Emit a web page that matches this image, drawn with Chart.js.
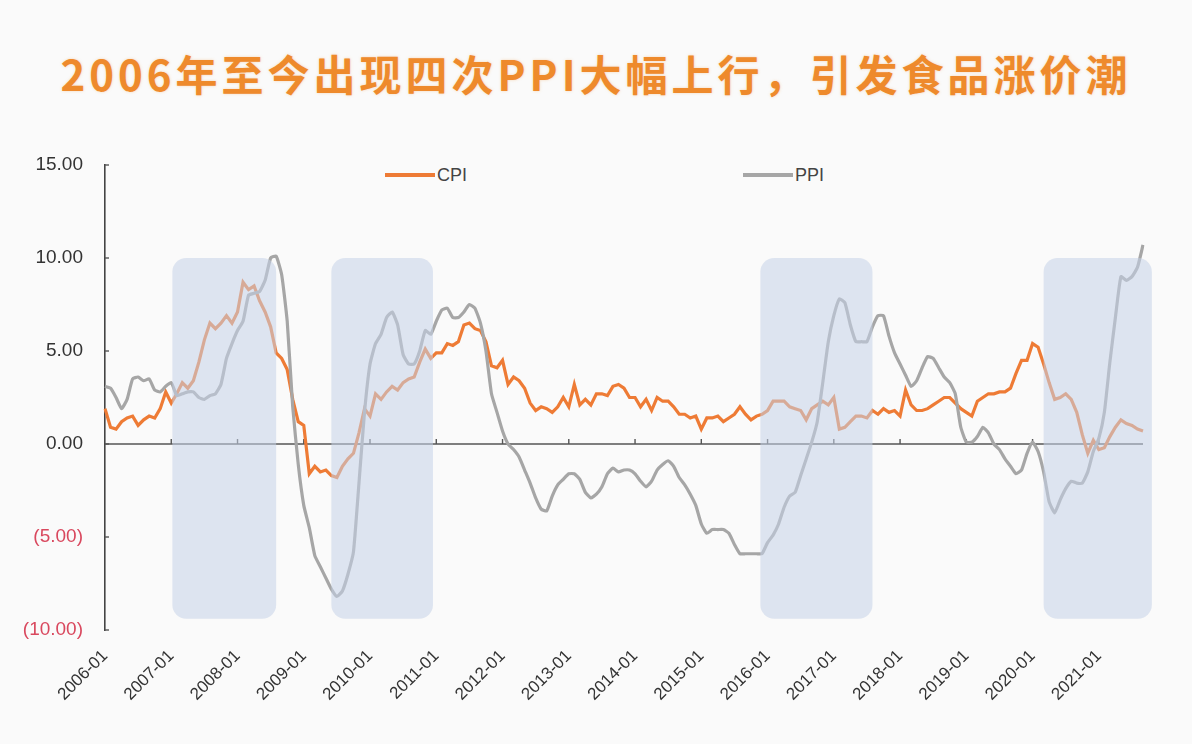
<!DOCTYPE html>
<html>
<head>
<meta charset="utf-8">
<script src="https://cdn.jsdelivr.net/npm/chart.js@4.4.1/dist/chart.umd.min.js"></script>
<style>
  html, body { margin: 0; padding: 0; background: #fafafa; }
  #wrap { position: relative; width: 1192px; height: 744px; overflow: hidden; background: #fafafa; }
  #title { position: absolute; left: 0; top: 44px; width: 1192px; text-align: center;
    font-family: "Noto Sans CJK SC", sans-serif; font-weight: 700; font-size: 42px; letter-spacing: 4px;
    color: #ee8a2c; line-height: 58px; text-shadow: 0 0 3px rgba(240,150,60,0.35); }
  .leg { position: absolute; top: 163px; font-family: "Liberation Sans", Arial, sans-serif; font-size: 18px; color: #444; line-height: 24px; }
  .leg span.ln { display: inline-block; width: 50px; height: 4px; vertical-align: middle; margin-right: 2px; position: relative; top: -1px; }
  canvas { position: absolute; left: 0; top: 0; }
</style>
</head>
<body>
<div id="wrap">
  <div id="title">2006年至今出现四次PPI大幅上行，引发食品涨价潮</div>
  <div class="leg" style="left:385px"><span class="ln" style="background:#ee7b35"></span>CPI</div>
  <div class="leg" style="left:743px"><span class="ln" style="background:#a6a6a6"></span>PPI</div>
  <canvas id="c" width="1192" height="744"></canvas>
</div>
<script>
// Months 2006-01 .. 2021-09
const months = [];
for (let y = 2006; y <= 2021; y++) {
  for (let m = 1; m <= 12; m++) {
    if (y === 2021 && m > 9) break;
    months.push(y + '-' + (m < 10 ? '0' + m : m));
  }
}

const cpi = [
  1.9, 0.9, 0.8, 1.2, 1.4, 1.5, 1.0, 1.3, 1.5, 1.4, 1.9, 2.8,
  2.2, 2.7, 3.3, 3.0, 3.4, 4.4, 5.6, 6.5, 6.2, 6.5, 6.9, 6.5,
  7.1, 8.7, 8.3, 8.5, 7.7, 7.1, 6.3, 4.9, 4.6, 4.0, 2.4, 1.2,
  1.0, -1.6, -1.2, -1.5, -1.4, -1.7, -1.8, -1.2, -0.8, -0.5, 0.6, 1.9,
  1.5, 2.7, 2.4, 2.8, 3.1, 2.9, 3.3, 3.5, 3.6, 4.4, 5.1, 4.6,
  4.9, 4.9, 5.4, 5.3, 5.5, 6.4, 6.5, 6.2, 6.1, 5.5, 4.2, 4.1,
  4.5, 3.2, 3.6, 3.4, 3.0, 2.2, 1.8, 2.0, 1.9, 1.7, 2.0, 2.5,
  2.0, 3.2, 2.1, 2.4, 2.1, 2.7, 2.7, 2.6, 3.1, 3.2, 3.0, 2.5,
  2.5, 2.0, 2.4, 1.8, 2.5, 2.3, 2.3, 2.0, 1.6, 1.6, 1.4, 1.5,
  0.8, 1.4, 1.4, 1.5, 1.2, 1.4, 1.6, 2.0, 1.6, 1.3, 1.5, 1.6,
  1.8, 2.3, 2.3, 2.3, 2.0, 1.9, 1.8, 1.3, 1.9, 2.1, 2.3, 2.1,
  2.5, 0.8, 0.9, 1.2, 1.5, 1.5, 1.4, 1.8, 1.6, 1.9, 1.7, 1.8,
  1.5, 2.9, 2.1, 1.8, 1.8, 1.9, 2.1, 2.3, 2.5, 2.5, 2.2, 1.9,
  1.7, 1.5, 2.3, 2.5, 2.7, 2.7, 2.8, 2.8, 3.0, 3.8, 4.5, 4.5,
  5.4, 5.2, 4.3, 3.3, 2.4, 2.5, 2.7, 2.4, 1.7, 0.5, -0.5, 0.2,
  -0.3, -0.2, 0.4, 0.9, 1.3, 1.1, 1.0, 0.8, 0.7
];

const ppi = [
  3.1, 3.0, 2.5, 1.9, 2.4, 3.5, 3.6, 3.4, 3.5, 2.9, 2.8, 3.1,
  3.3, 2.6, 2.7, 2.8, 2.8, 2.5, 2.4, 2.6, 2.7, 3.2, 4.6, 5.4,
  6.1, 6.6, 8.0, 8.1, 8.2, 8.8, 10.0, 10.1, 9.1, 6.6, 2.0, -1.1,
  -3.3, -4.5, -6.0, -6.6, -7.2, -7.8, -8.2, -7.9, -7.0, -5.8, -2.1, 1.7,
  4.3, 5.4, 5.9, 6.8, 7.1, 6.4, 4.8, 4.3, 4.3, 5.0, 6.1, 5.9,
  6.6, 7.2, 7.3, 6.8, 6.8, 7.1, 7.5, 7.3, 6.5, 5.0, 2.7, 1.7,
  0.7, 0.0, -0.3, -0.7, -1.4, -2.1, -2.9, -3.5, -3.6, -2.8, -2.2, -1.9,
  -1.6, -1.6, -1.9, -2.6, -2.9, -2.7, -2.3, -1.6, -1.3, -1.5, -1.4, -1.4,
  -1.6, -2.0, -2.3, -2.0, -1.4, -1.1, -0.9, -1.2, -1.8, -2.2, -2.7, -3.3,
  -4.3, -4.8, -4.6, -4.6, -4.6, -4.8, -5.4, -5.9, -5.9, -5.9, -5.9, -5.9,
  -5.3, -4.9, -4.3, -3.4, -2.8, -2.6, -1.7, -0.8, 0.1, 1.2, 3.3, 5.5,
  6.9, 7.8, 7.6, 6.4, 5.5, 5.5, 5.5, 6.3, 6.9, 6.9, 5.8, 4.9,
  4.3, 3.7, 3.1, 3.4, 4.1, 4.7, 4.6, 4.1, 3.6, 3.3, 2.7, 0.9,
  0.1, 0.1, 0.4, 0.9, 0.6, 0.0, -0.3, -0.8, -1.2, -1.6, -1.4, -0.5,
  0.1, -0.4, -1.5, -3.1, -3.7, -3.0, -2.4, -2.0, -2.1, -2.1, -1.5, -0.4,
  0.3, 1.7, 4.4, 6.8, 9.0, 8.8, 9.0, 9.5, 10.7
];

// Highlighted PPI up-cycles (month index from 2006-01) and their value span
const shadeStart = [12.2, 41.0, 118.7, 170.0];
const shadeEnd   = [31.0, 59.4, 139.0, 189.6];
const shadeTop = 10;
const shadeBottom = -9.4;

const yTicks = [15, 10, 5, 0, -5, -10];

const decor = {
  id: 'decor',
  beforeDatasetsDraw(chart) {
    const { ctx, chartArea: a, scales: { x, y } } = chart;
    ctx.save();
    // zero line
    const y0 = y.getPixelForValue(0);
    ctx.strokeStyle = '#555';
    ctx.lineWidth = 1.6;
    ctx.beginPath();
    ctx.moveTo(a.left, y0);
    ctx.lineTo(a.right, y0);
    ctx.stroke();
    // x tick marks at each January on the zero line
    ctx.lineWidth = 1.4;
    months.forEach((lab, i) => {
      if (lab.endsWith('-01') && i > 0) {
        const px = x.getPixelForValue(i);
        ctx.beginPath();
        ctx.moveTo(px, y0);
        ctx.lineTo(px, y0 - 5);
        ctx.stroke();
      }
    });
    // y tick marks inside
    yTicks.forEach(v => {
      const py = y.getPixelForValue(v);
      ctx.beginPath();
      ctx.moveTo(a.left, py);
      ctx.lineTo(a.left + 4, py);
      ctx.stroke();
    });
    ctx.restore();
  },
  afterDatasetsDraw(chart) {
    const { ctx, scales: { x, y } } = chart;
    ctx.save();
    ctx.fillStyle = 'rgba(196,210,231,0.55)';
    for (let k = 0; k < shadeStart.length; k++) {
      const x1 = x.getPixelForValue(shadeStart[k]);
      const x2 = x.getPixelForValue(shadeEnd[k]);
      const y1 = y.getPixelForValue(shadeTop);
      const y2 = y.getPixelForValue(shadeBottom);
      ctx.beginPath();
      ctx.roundRect(x1, y1, x2 - x1, y2 - y1, 14);
      ctx.fill();
    }
    ctx.restore();
  }
};

new Chart(document.getElementById('c'), {
  type: 'line',
  data: {
    labels: months,
    datasets: [
      { label: 'PPI', data: ppi, borderColor: '#a6a6a6', borderWidth: 3.2, pointRadius: 0, tension: 0.15, order: 1 },
      { label: 'CPI', data: cpi, borderColor: '#ee7b35', borderWidth: 3.2, pointRadius: 0, tension: 0, order: 2 }
    ]
  },
  options: {
    responsive: false,
    animation: false,
    layout: { padding: { left: 0, right: 49, top: 165, bottom: 0 } },
    plugins: { legend: { display: false }, title: { display: false }, tooltip: { enabled: false } },
    scales: {
      x: {
        type: 'category',
        offset: false,
        grid: { display: false, drawTicks: false },
        border: { display: false },
        ticks: {
          autoSkip: false,
          maxRotation: 45,
          minRotation: 45,
          padding: 16,
          color: '#333',
          font: { family: '"Liberation Sans", Arial, sans-serif', size: 17 },
          callback(v, i) { const l = months[i]; return l.endsWith('-01') ? l : null; }
        },
        afterFit(s) { s.height = 744 - 630; }
      },
      y: {
        min: -10, max: 15,
        grid: { display: false, drawTicks: false },
        border: { display: true, color: '#444', width: 1.6 },
        ticks: {
          stepSize: 5,
          padding: 22,
          font: { family: '"Liberation Sans", Arial, sans-serif', size: 19 },
          color(c) { return c.tick && c.tick.value < 0 ? '#d9485e' : '#333'; },
          callback(v) { return v < 0 ? '(' + Math.abs(v).toFixed(2) + ')' : v.toFixed(2); }
        },
        afterFit(s) { s.width = 105; }
      }
    }
  },
  plugins: [decor]
});
</script>
</body>
</html>
